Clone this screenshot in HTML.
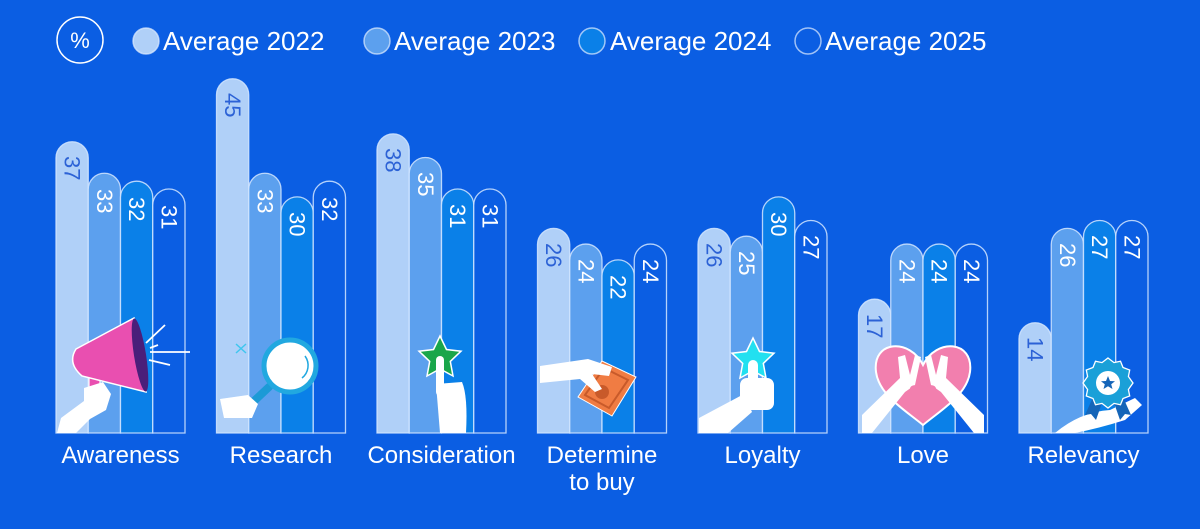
<!DOCTYPE html>
<html><head><meta charset="utf-8"><style>
html,body{margin:0;padding:0;background:#0b5ee3;}
svg{display:block;}
text{font-family:"Liberation Sans",sans-serif;}
.b1{fill:#b0d0f8}.b2{fill:#5ca0ee}.b3{fill:#0a80e8}.b4{fill:#0b5ee3}
.bar{stroke:#d4e6ff;stroke-opacity:.85;stroke-width:1.3}
.v{font-size:22px;fill:#fff;dominant-baseline:central}
.v1{fill:#2c62d6}
.c{font-size:24px;fill:#fff;text-anchor:middle}
.lg{font-size:26px;fill:#fff}
</style></head><body>
<svg width="1200" height="529" viewBox="0 0 1200 529" xmlns="http://www.w3.org/2000/svg">
<rect width="1200" height="529" fill="#0b5ee3"/>
<!-- legend -->
<circle cx="80" cy="40" r="23" fill="none" stroke="#fff" stroke-width="1.5"/>
<text x="80" y="48" font-size="22" fill="#fff" text-anchor="middle">%</text>
<g stroke="#e0ecff" stroke-opacity=".7" stroke-width="1.5">
<circle cx="146" cy="41" r="13" fill="#b0d0f8"/>
<circle cx="377" cy="41" r="13" fill="#5ca0ee"/>
<circle cx="592" cy="41" r="13" fill="#0a80e8"/>
<circle cx="808" cy="41" r="13" fill="#0b5ee3"/>
</g>
<text class="lg" x="163" y="50">Average 2022</text>
<text class="lg" x="394" y="50">Average 2023</text>
<text class="lg" x="610" y="50">Average 2024</text>
<text class="lg" x="825" y="50">Average 2025</text>

<!-- bars -->
<g class="bar">
<!-- Awareness -->
<path class="b1" d="M56 433V157.9A16.125 16.125 0 0 1 88.25 157.9V433Z"/>
<path class="b2" d="M88.25 433V189.4A16.125 16.125 0 0 1 120.5 189.4V433Z"/>
<path class="b3" d="M120.5 433V197.3A16.125 16.125 0 0 1 152.75 197.3V433Z"/>
<path class="b4" d="M152.75 433V205.1A16.125 16.125 0 0 1 185 205.1V433Z"/>
<!-- Research -->
<path class="b1" d="M216.5 433V94.9A16.125 16.125 0 0 1 248.75 94.9V433Z"/>
<path class="b2" d="M248.75 433V189.4A16.125 16.125 0 0 1 281 189.4V433Z"/>
<path class="b3" d="M281 433V213A16.125 16.125 0 0 1 313.25 213V433Z"/>
<path class="b4" d="M313.25 433V197.3A16.125 16.125 0 0 1 345.5 197.3V433Z"/>
<!-- Consideration -->
<path class="b1" d="M377 433V150A16.125 16.125 0 0 1 409.25 150V433Z"/>
<path class="b2" d="M409.25 433V173.6A16.125 16.125 0 0 1 441.5 173.6V433Z"/>
<path class="b3" d="M441.5 433V205.1A16.125 16.125 0 0 1 473.75 205.1V433Z"/>
<path class="b4" d="M473.75 433V205.1A16.125 16.125 0 0 1 506 205.1V433Z"/>
<!-- Determine -->
<path class="b1" d="M537.5 433V244.5A16.125 16.125 0 0 1 569.75 244.5V433Z"/>
<path class="b2" d="M569.75 433V260.2A16.125 16.125 0 0 1 602 260.2V433Z"/>
<path class="b3" d="M602 433V276A16.125 16.125 0 0 1 634.25 276V433Z"/>
<path class="b4" d="M634.25 433V260.2A16.125 16.125 0 0 1 666.5 260.2V433Z"/>
<!-- Loyalty -->
<path class="b1" d="M698 433V244.5A16.125 16.125 0 0 1 730.25 244.5V433Z"/>
<path class="b2" d="M730.25 433V252.3A16.125 16.125 0 0 1 762.5 252.3V433Z"/>
<path class="b3" d="M762.5 433V213A16.125 16.125 0 0 1 794.75 213V433Z"/>
<path class="b4" d="M794.75 433V236.6A16.125 16.125 0 0 1 827 236.6V433Z"/>
<!-- Love -->
<path class="b1" d="M858.5 433V315.3A16.125 16.125 0 0 1 890.75 315.3V433Z"/>
<path class="b2" d="M890.75 433V260.2A16.125 16.125 0 0 1 923 260.2V433Z"/>
<path class="b3" d="M923 433V260.2A16.125 16.125 0 0 1 955.25 260.2V433Z"/>
<path class="b4" d="M955.25 433V260.2A16.125 16.125 0 0 1 987.5 260.2V433Z"/>
<!-- Relevancy -->
<path class="b1" d="M1019 433V338.9A16.125 16.125 0 0 1 1051.25 338.9V433Z"/>
<path class="b2" d="M1051.25 433V244.5A16.125 16.125 0 0 1 1083.5 244.5V433Z"/>
<path class="b3" d="M1083.5 433V236.6A16.125 16.125 0 0 1 1115.75 236.6V433Z"/>
<path class="b4" d="M1115.75 433V236.6A16.125 16.125 0 0 1 1148 236.6V433Z"/>
</g>

<!-- value labels -->
<g>
<text class="v v1" transform="translate(72.1 156) rotate(90)">37</text>
<text class="v" transform="translate(104.4 189) rotate(90)">33</text>
<text class="v" transform="translate(136.6 197) rotate(90)">32</text>
<text class="v" transform="translate(168.9 205) rotate(90)">31</text>

<text class="v v1" transform="translate(232.6 93) rotate(90)">45</text>
<text class="v" transform="translate(264.9 189) rotate(90)">33</text>
<text class="v" transform="translate(297.1 212) rotate(90)">30</text>
<text class="v" transform="translate(329.4 197) rotate(90)">32</text>

<text class="v v1" transform="translate(393.1 148) rotate(90)">38</text>
<text class="v" transform="translate(425.4 172) rotate(90)">35</text>
<text class="v" transform="translate(457.6 204) rotate(90)">31</text>
<text class="v" transform="translate(489.9 204) rotate(90)">31</text>

<text class="v v1" transform="translate(553.6 243) rotate(90)">26</text>
<text class="v" transform="translate(585.9 259) rotate(90)">24</text>
<text class="v" transform="translate(618.1 275) rotate(90)">22</text>
<text class="v" transform="translate(650.4 259) rotate(90)">24</text>

<text class="v v1" transform="translate(714.1 243) rotate(90)">26</text>
<text class="v" transform="translate(746.4 251) rotate(90)">25</text>
<text class="v" transform="translate(778.6 212) rotate(90)">30</text>
<text class="v" transform="translate(810.9 235) rotate(90)">27</text>

<text class="v v1" transform="translate(874.6 314) rotate(90)">17</text>
<text class="v" transform="translate(906.9 259) rotate(90)">24</text>
<text class="v" transform="translate(939.1 259) rotate(90)">24</text>
<text class="v" transform="translate(971.4 259) rotate(90)">24</text>

<text class="v v1" transform="translate(1035.1 337) rotate(90)">14</text>
<text class="v" transform="translate(1067.4 243) rotate(90)">26</text>
<text class="v" transform="translate(1099.6 235) rotate(90)">27</text>
<text class="v" transform="translate(1131.9 235) rotate(90)">27</text>
</g>

<!-- Illustrations -->
<!-- Awareness megaphone -->
<g>
<rect x="89" y="370" width="11" height="18" fill="#e94fb0" stroke="#fff" stroke-width="1.2"/>
<path d="M76 349 L134 318 L146 392 L82 376 Q67 363 76 349Z" fill="#e94fb0" stroke="#fff" stroke-width="1.5"/>
<ellipse cx="140" cy="355" rx="6" ry="37" fill="#4a1f7a" transform="rotate(-9 140 355)"/>
<path d="M57 433 L61 418 L84 401 L84 388 L103 382 L111 394 L106 410 L90 419 L76 433Z" fill="#fff"/>
<g stroke="#fff" stroke-width="1.8">
<line x1="146" y1="343" x2="165" y2="325"/>
<line x1="150" y1="348" x2="158" y2="345"/>
<line x1="150" y1="352" x2="190" y2="352"/>
<line x1="149" y1="360" x2="170" y2="365"/>
</g>
</g>
<!-- Research magnifier -->
<g>
<line x1="269" y1="387" x2="252" y2="403" stroke="#1c9ad6" stroke-width="8" stroke-linecap="round"/>
<circle cx="290" cy="366" r="26" fill="#fff" stroke="#21a8e0" stroke-width="5"/>
<path d="M305 356 A16 16 0 0 1 302 378" fill="none" stroke="#21a8e0" stroke-width="1.5"/>
<path d="M220 399 L248 395 L258 404 L252 418 L224 418Z" fill="#fff"/>
<g stroke="#3fc6ee" stroke-width="1.5"><line x1="236" y1="344" x2="246" y2="353"/><line x1="246" y1="344" x2="236" y2="353"/></g>
</g>
<!-- Consideration star + finger -->
<g>
<path d="M440 336 L446.5 349.5 L461 351.2 L450.3 361.4 L453 376 L440 368.8 L427 376 L429.7 361.4 L419 351.2 L433.5 349.5Z" fill="#1aa64a" stroke="#fff" stroke-width="1.5"/>
<rect x="436" y="356" width="8" height="40" rx="4" fill="#fff"/>
<path d="M436 384 L462 382 Q468 396 466 433 L440 433Z" fill="#fff"/>
</g>
<!-- Determine hand + money -->
<g>
<polygon points="578,397 602,361 636,377 612,416" fill="#f07c43" stroke="#fff" stroke-width="1"/>
<polygon points="585,395 604,368 628,380 609,408" fill="none" stroke="#c85a2a" stroke-width="2"/>
<circle cx="602" cy="392" r="7" fill="#c85a2a"/>
<path d="M540 366 L588 359 L612 367 L609 376 L592 374 L602 389 L595 392 L580 379 L540 383Z" fill="#fff"/>
</g>
<!-- Loyalty thumbs + star -->
<g>
<path d="M753 338 L759.5 351.5 L774 353.2 L763.3 363.4 L766 378 L753 370.8 L740 378 L742.7 363.4 L732 353.2 L746.5 351.5Z" fill="#22e0f0" stroke="#fff" stroke-width="1.5"/>
<rect x="748" y="360" width="10" height="26" rx="5" fill="#fff"/>
<rect x="740" y="378" width="34" height="32" rx="7" fill="#fff"/>
<polygon points="699,433 699,418 744,394 752,412 728,433" fill="#fff"/>
</g>
<!-- Love heart + hands -->
<g>
<path d="M923 365 C910 338 872 340 876 372 C879 395 905 410 923 425 C941 410 967 395 970 372 C974 340 936 338 923 365Z" fill="#f27fae" stroke="#fff" stroke-width="2"/>
<path d="M862 415 L900 378 L898 357 L905 355 L910 375 L915 355 L921 357 L915 385 L905 392 L872 433 L862 433Z" fill="#fff"/>
<path d="M984 415 L946 378 L948 357 L941 355 L936 375 L931 355 L925 357 L931 385 L941 392 L974 433 L984 433Z" fill="#fff"/>
<path d="M923 392 C918 382 908 384 910 392 C912 398 918 402 923 406 C928 402 934 398 936 392 C938 384 928 382 923 392Z" fill="#f27fae"/>
</g>
<!-- Relevancy rosette -->
<g>
<path d="M1055 433 Q1080 412 1110 410 L1135 398 L1142 405 L1125 420 Q1100 428 1075 433Z" fill="#fff"/>
<polygon points="1094,395 1103,400 1096,420 1091,414 1085,415" fill="#1565b8"/>
<polygon points="1113,400 1122,395 1131,415 1125,414 1120,420" fill="#1565b8"/>
<polygon points="1108,358 1114,362.6 1120.5,361.3 1123,367.5 1129.7,370 1128.4,376.5 1133,383 1128.4,389.5 1129.7,396 1123,398.5 1120.5,404.7 1114,403.4 1108,408 1102,403.4 1095.5,404.7 1093,398.5 1086.3,396 1087.6,389.5 1083,383 1087.6,376.5 1086.3,370 1093,367.5 1095.5,361.3 1102,362.6" fill="#1aa0d8" stroke="#fff" stroke-width="1.3"/>
<circle cx="1108" cy="383" r="12" fill="#fff"/>
<path d="M1108 376 L1110 381 L1115 381.2 L1111.2 384.3 L1112.5 389 L1108 386.3 L1103.5 389 L1104.8 384.3 L1101 381.2 L1106 381Z" fill="#1565b8"/>
</g>

<!-- category labels -->
<text class="c" x="120.5" y="463">Awareness</text>
<text class="c" x="281" y="463">Research</text>
<text class="c" x="441.5" y="463">Consideration</text>
<text class="c" x="602" y="463">Determine</text>
<text class="c" x="602" y="490">to buy</text>
<text class="c" x="762.5" y="463">Loyalty</text>
<text class="c" x="923" y="463">Love</text>
<text class="c" x="1083.5" y="463">Relevancy</text>
</svg>
</body></html>
